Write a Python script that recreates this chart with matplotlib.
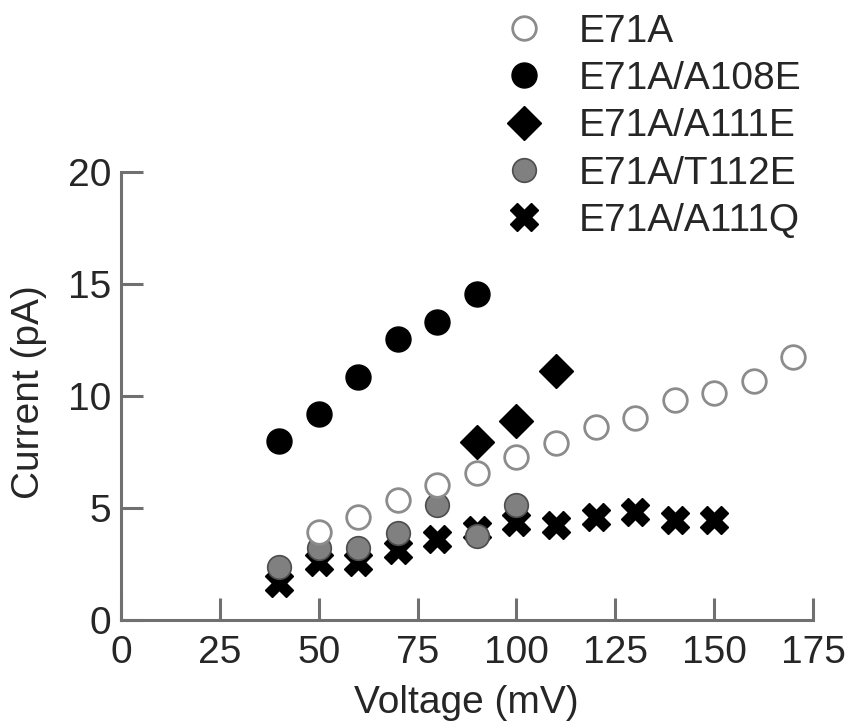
import matplotlib
matplotlib.use("Agg")
import matplotlib.pyplot as plt

plt.rcParams['font.family'] = ['Liberation Sans', 'DejaVu Sans']

# E71A (open circles)
v_e71a = [50, 60, 70, 80, 90, 100, 110, 120, 130, 140, 150, 160, 170]
i_e71a = [3.94, 4.61, 5.36, 6.03, 6.55, 7.26, 7.89, 8.63, 9.02, 9.82, 10.13, 10.67, 11.74]

# E71A/A108E (black circles)
v_a108e = [40, 50, 60, 70, 80, 90]
i_a108e = [8.0, 9.18, 10.83, 12.54, 13.29, 14.55]

# E71A/A111E (diamonds)
v_a111e = [90, 100, 110]
i_a111e = [7.93, 8.90, 11.12]

# E71A/T112E (grey circles)
v_t112e = [40, 50, 60, 70, 80, 90, 100]
i_t112e = [2.38, 3.2, 3.2, 3.87, 5.13, 3.75, 5.13]

# E71A/A111Q (crosses)
v_a111q = [40, 50, 60, 70, 80, 90, 100, 110, 120, 130, 140, 150]
i_a111q = [1.65, 2.6, 2.6, 3.13, 3.6, 4.0, 4.39, 4.24, 4.61, 4.84, 4.46, 4.46]

xticks = [0, 25, 50, 75, 100, 125, 150, 175]
yticks = [0, 5, 10, 15, 20]

txt = '#262626'
spine_col = '#707070'
fs = 28

fig = plt.figure(figsize=(8.49, 7.26), dpi=100)
ax = fig.add_axes([121 / 849, 1 - 620 / 726, (813 - 121) / 849, (620 - 172) / 726])

h_q, = ax.plot(v_a111q, i_a111q, ls='none', marker='X', ms=20, color='black',
               mec='black', mew=1, label='E71A/A111Q', zorder=3)
h_t, = ax.plot(v_t112e, i_t112e, ls='none', marker='o', ms=17, mfc='#808080',
               mec='#4d4d4d', mew=1.2, label='E71A/T112E', zorder=4)
h_o, = ax.plot(v_e71a, i_e71a, ls='none', marker='o', ms=17, mfc='white',
               mec='#8c8c8c', mew=2, label='E71A', zorder=5)
h_b, = ax.plot(v_a108e, i_a108e, ls='none', marker='o', ms=18, mfc='black',
               mec='black', mew=1, label='E71A/A108E', zorder=6)
h_d, = ax.plot(v_a111e, i_a111e, ls='none', marker='D', ms=17, mfc='black',
               mec='black', mew=1, label='E71A/A111E', zorder=7)

ax.set_xlim(0, 175)
ax.set_ylim(0, 20)
ax.set_xticks(xticks)
ax.set_yticks(yticks)
for s in ['top', 'right']:
    ax.spines[s].set_visible(False)
for s in ['left', 'bottom']:
    ax.spines[s].set_color(spine_col)
    ax.spines[s].set_linewidth(2.2)
ax.tick_params(axis='x', direction='in', length=16, width=2.2, color=spine_col,
               labelsize=fs, labelcolor=txt, pad=11)
ax.tick_params(axis='y', direction='in', length=16, width=2.2, color=spine_col,
               labelsize=fs, labelcolor=txt, pad=7)

fig.text(466 / 849, 1 - 703 / 726, 'Voltage (mV)', fontsize=fs, color=txt,
         ha='center', va='center')
fig.text(29 / 849, 1 - 392 / 726, 'Current (pA)', fontsize=fs, color=txt,
         ha='center', va='center', rotation=90)

leg = fig.legend(handles=[h_o, h_b, h_d, h_t, h_q],
                 labels=['E71A', 'E71A/A108E', 'E71A/A111E', 'E71A/T112E', 'E71A/A111Q'],
                 loc='upper left', bbox_to_anchor=(495 / 849, 1 - 6 / 726),
                 frameon=False, fontsize=fs, labelspacing=0.29,
                 handlelength=1.1, handletextpad=0.85, borderpad=0.2, borderaxespad=0)
for t in leg.get_texts():
    t.set_color(txt)

fig.savefig('out.png', dpi=100)
